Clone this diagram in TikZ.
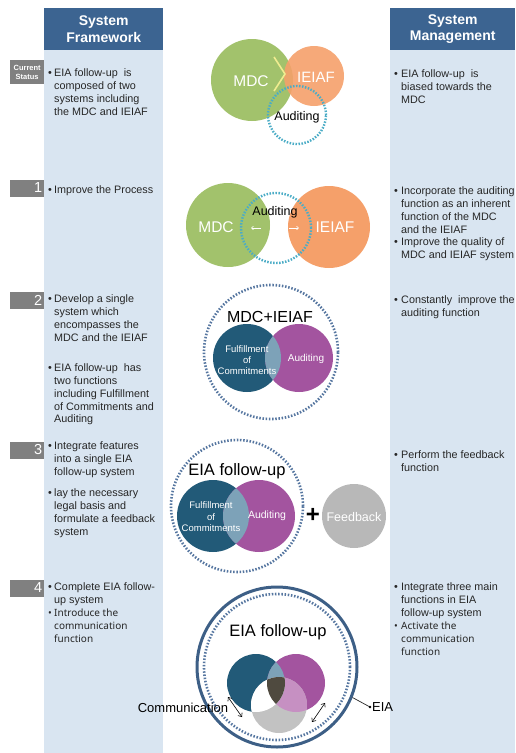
\documentclass[tikz,border=0pt]{standalone}
\usepackage{fontspec}
\setmainfont{Liberation Sans}
\newfontfamily\notofont{Noto Sans}
\usetikzlibrary{arrows.meta}
\definecolor{hdr}{HTML}{3C6491}
\definecolor{panel}{HTML}{D9E5F1}
\definecolor{lbl}{HTML}{808080}
\definecolor{mdcgreen}{HTML}{A2C26C}
\definecolor{ieiaf}{HTML}{F5A06A}
\definecolor{audcyan}{HTML}{4BACC6}
\definecolor{chev}{HTML}{F0EC90}
\definecolor{dotblue}{HTML}{5676A0}
\definecolor{dkblue}{HTML}{225A78}
\definecolor{purp}{HTML}{A3549F}
\definecolor{lenscol}{HTML}{7DA2B8}
\definecolor{fbgray}{HTML}{B8B8B8}
\definecolor{graythree}{HTML}{C2C2C2}
\definecolor{pglens}{HTML}{C690C2}
\definecolor{centerthree}{HTML}{4F4A3F}
\definecolor{outerblue}{HTML}{3D5F86}
\newcommand\setfs[2]{\fontsize{#1}{#2}\selectfont}
\tikzset{
  hdrbox/.style={fill=hdr, text=white, font=\bfseries\setfs{14}{16.5}, align=center, inner sep=0pt, anchor=north west},
  lblbox/.style={fill=lbl, text=white, inner xsep=2pt, inner ysep=0pt, anchor=west, text width=30pt},
  txt/.style={font=\setfs{10.8}{12.8}, align=left, inner sep=0pt, anchor=north west, text=black!85},
  ktxt/.style={font=\notofont\setfs{10}{13}, align=left, inner sep=0pt, anchor=north west, text=black!85},
  disc/.style={circle, inner sep=0pt, minimum size=#1},
  dotring/.style={draw=dotblue, line width=2.6pt, dash pattern=on 1.5pt off 1.7pt},
  cyanring/.style={draw=audcyan, line width=2.4pt, dash pattern=on 1.5pt off 1.5pt},
  wlabel/.style={text=white, inner sep=0pt, align=center},
  blabel/.style={text=black, inner sep=0pt, align=center},
  smallarrow/.style={white, line width=0.6pt, -{Straight Barb[length=2pt,width=3.5pt]}},
  dblarrow/.style={black, line width=0.6pt, {Straight Barb[length=3pt,width=5pt]}-{Straight Barb[length=3pt,width=5pt]}}
}
\begin{document}
\begin{tikzpicture}[x=1pt,y=-1pt]
\useasboundingbox (0,0) rectangle (515,753);
% panels
\fill[panel] (44,8) rectangle (163,753);
\fill[panel] (390,8) rectangle (515,753);
\node[hdrbox, minimum width=119pt, minimum height=42pt] (hdrL) at (44,8) {System\\Framework};
\node[hdrbox, minimum width=125pt, minimum height=42pt] (hdrR) at (390,8) {System\\Management};
% row labels
\node[lblbox, minimum height=24pt, align=center, font=\bfseries\setfs{7.5}{9}] (cs) at (10,72) {Current\\Status};
\node[lblbox, minimum height=17pt, align=right, font=\setfs{14.5}{14}] (n1) at (10,188) {1};
\node[lblbox, minimum height=17pt, align=right, font=\setfs{14.5}{14}] (n2) at (10,300) {2};
\node[lblbox, minimum height=17pt, align=right, font=\setfs{14.5}{14}] (n3) at (10,450) {3};
\node[lblbox, minimum height=17pt, align=right, font=\setfs{14.5}{14}] (n4) at (10,588) {4};
% left texts
\node[txt] (bL0) at (48,67.5) {\strut•};
\node[txt] (tL0) at (54,67.5) {\strut EIA follow-up\ \ is\\composed of two\\systems including\\the MDC and IEIAF};
\node[txt] (bL1) at (48,184.5) {\strut•};
\node[txt] (tL1) at (54,184.5) {\strut Improve the Process};
\node[txt] (bL2a) at (48,293.5) {\strut•};
\node[txt] (tL2a) at (54,293.5) {\strut Develop a single\\system which\\encompasses the\\MDC and the IEIAF};
\node[txt] (bL2b) at (48,362.5) {\strut•};
\node[txt] (tL2b) at (54,362.5) {\strut EIA follow-up\ \ has\\two functions\\including Fulfillment\\of Commitments and\\Auditing};
\node[txt] (bL3a) at (48,440.5) {\strut•};
\node[txt] (tL3a) at (54,440.5) {\strut Integrate features\\into a single EIA\\follow-up system};
\node[txt] (bL3b) at (48,487.5) {\strut•};
\node[txt] (tL3b) at (54,487.5) {\strut lay the necessary\\legal basis and\\formulate a feedback\\system};
\node[txt] (bL4a) at (48,581.5) {\strut•};
\node[txt] (tL4a) at (54,581.5) {\strut Complete EIA follow-\\up system};
\node[ktxt] (bL4b) at (48,607.5) {\strut•};
\node[ktxt] (tL4b) at (54,607.5) {\strut Introduce the\\communication\\function};
% right texts
\node[txt] (bR0) at (394,68.5) {\strut•};
\node[txt] (tR0) at (401,68.5) {\strut EIA follow-up\ \ is\\biased towards the\\MDC};
\node[txt] (bR1a) at (394,185.5) {\strut•};
\node[txt] (tR1a) at (401,185.5) {\strut Incorporate the auditing\\function as an inherent\\function of the MDC\\and the IEIAF};
\node[txt] (bR1b) at (394,236.5) {\strut•};
\node[txt] (tR1b) at (401,236.5) {\strut Improve the quality of\\MDC and IEIAF system};
\node[txt] (bR2) at (394,294.5) {\strut•};
\node[txt] (tR2) at (401,294.5) {\strut Constantly\ \ improve the\\auditing function};
\node[txt] (bR3) at (394,449.5) {\strut•};
\node[txt] (tR3) at (401,449.5) {\strut Perform the feedback\\function};
\node[txt] (bR4a) at (394,581.5) {\strut•};
\node[txt] (tR4a) at (401,581.5) {\strut Integrate three main\\functions in EIA\\follow-up system};
\node[ktxt] (bR4b) at (394,620.5) {\strut•};
\node[ktxt] (tR4b) at (401,620.5) {\strut Activate the\\communication\\function};
% ---- current status figure
\node[disc=82pt, fill=mdcgreen] (mdc0) at (252,80) {};
\node[disc=60pt, fill=ieiaf, fill opacity=0.9] (ie0) at (314,76) {};
\node[wlabel, font=\setfs{15.5}{16}] (mdc0t) at (251,81) {MDC};
\node[wlabel, font=\setfs{15}{16}] (ie0t) at (316,77) {IEIAF};
\draw[chev, line width=1.6pt] (274,57) -- (285,74) -- (274,91);
\node[disc=58pt, cyanring] (aud0) at (297,115) {};
\node[blabel, font=\setfs{12.5}{13}] (aud0t) at (297,117) {Auditing};
% ---- row 1 figure
\node[disc=84pt, fill=mdcgreen] (mdc1) at (228,225) {};
\node[disc=82pt, fill=ieiaf] (ie1) at (329,227) {};
\node[wlabel, font=\setfs{15.5}{16}] (mdc1t) at (216,227) {MDC};
\node[wlabel, font=\setfs{15.5}{16}] (ie1t) at (335,227) {IEIAF};
\node[disc=70pt, cyanring] (aud1) at (276,228) {};
\node[blabel, font=\setfs{12.5}{13}] (aud1t) at (275,212) {Auditing};
\coordinate (la1) at (261,228); \coordinate (la2) at (251,228);
\coordinate (ra1) at (289,228); \coordinate (ra2) at (299,228);
\draw[smallarrow] (la1) -- (la2);
\draw[smallarrow] (ra1) -- (ra2);
% ---- row 2 figure
\node[disc=134pt, dotring] (big2) at (271,352) {};
\node[blabel, font=\setfs{16}{17}] (big2t) at (270,317) {MDC+IEIAF};
\node[disc=68pt, fill=dkblue] (d2) at (247,358) {};
\node[disc=68pt, fill=purp] (p2) at (299,358) {};
\begin{scope}
  \clip (d2.center) circle[radius=34pt];
  \fill[lenscol] (p2.center) circle[radius=34pt];
\end{scope}
\node[wlabel, font=\setfs{9.5}{11}] (d2t) at (247,360) {Fulfillment\\of\\Commitments};
\node[wlabel, font=\setfs{10}{11}] (p2t) at (306,359) {Auditing};
% ---- row 3 figure
\node[disc=132pt, dotring] (big3) at (237,506) {};
\node[blabel, font=\setfs{16.5}{17}] (big3t) at (237,471) {EIA follow-up};
\node[disc=72pt, fill=dkblue] (d3) at (213,516) {};
\node[disc=72pt, fill=purp] (p3) at (259,516) {};
\begin{scope}
  \clip (d3.center) circle[radius=36pt];
  \fill[lenscol] (p3.center) circle[radius=36pt];
\end{scope}
\node[wlabel, font=\setfs{9.5}{11.5}] (d3t) at (211,517) {Fulfillment\\of\\Commitments};
\node[wlabel, font=\setfs{10.5}{11}] (p3t) at (267,516) {Auditing};
\node[blabel, font=\bfseries\setfs{24}{24}] (plus) at (313,515) {+};
\node[disc=64pt, fill=fbgray] (fb) at (354,516) {};
\node[wlabel, font=\setfs{12.5}{13}] (fbt) at (354,517) {Feedback};
% ---- row 4 figure
\node[disc=160pt, draw=outerblue, line width=3pt] (outer4) at (277,667) {};
\node[disc=146pt, dotring] (inner4) at (277,667) {};
\node[blabel, font=\setfs{16.5}{17}] (eia4t) at (278,632) {EIA follow-up};
\node[disc=58pt, fill=dkblue] (d4) at (256,683) {};
\node[disc=58pt, fill=purp] (p4) at (296,683) {};
\node[disc=56pt, fill=graythree] (g4) at (279,705) {};
\begin{scope}
  \clip (p4.center) circle[radius=29pt];
  \fill[pglens] (g4.center) circle[radius=28pt];
\end{scope}
\begin{scope}
  \clip (d4.center) circle[radius=29pt];
  \fill[lenscol] (p4.center) circle[radius=29pt];
  \fill[white] (g4.center) circle[radius=28pt];
  \clip (p4.center) circle[radius=29pt];
  \fill[centerthree] (g4.center) circle[radius=28pt];
\end{scope}
\coordinate (ca1) at (228,697); \coordinate (ca2) at (242,717);
\coordinate (cb1) at (312,722); \coordinate (cb2) at (325,703);
\draw[dblarrow] (ca1) -- (ca2);
\draw[dblarrow] (cb1) -- (cb2);
\node[blabel, font=\setfs{13}{14}] (comm) at (183,708) {Communication};
\coordinate (eiaend) at (370,707);
\draw[black!85, line width=0.7pt] (outer4.-22) -- (eiaend);
\fill[black] (eiaend) circle[radius=1.4pt];
\node[blabel, anchor=west, font=\setfs{13}{14}] (eialbl) at (372,707) {EIA};
\end{tikzpicture}
\end{document}
